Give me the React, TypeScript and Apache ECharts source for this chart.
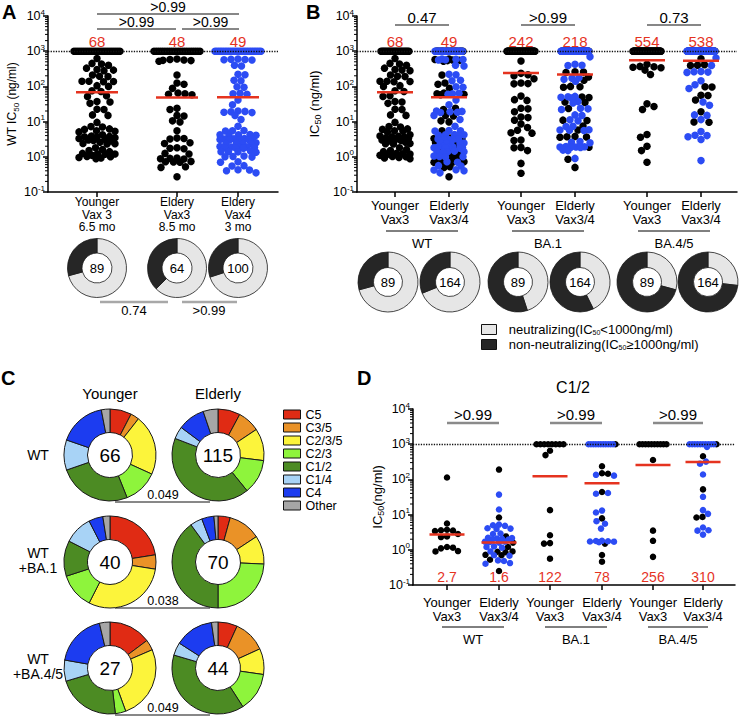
import React, { useEffect, useRef } from "react";
import * as echarts from "echarts";

const FONT = "'Liberation Sans', Arial, Helvetica, sans-serif";
const BLACK = "#000000";
const BLUE = "#2c4cf4";
const RED = "#e5331f";
const LIGHT = "#e6e6e6";
const DARK = "#262626";
const CENSOR = 1000;

// ---------------- Panel A ----------------
const aCategories = ["Younger\nVax 3\n6.5 mo", "Eldery\nVax3\n8.5 mo", "Eldery\nVax4\n3 mo"];
const aMedians = [68, 48, 49];
const aPValues = [">0.99", ">0.99", ">0.99"];
const aDonutP = ["0.74", ">0.99"];
const aDonutTotals = [89, 64, 100];
const aDonutNeutral = [63, 40, 70];
const aDonutNonNeutral = [26, 24, 30];

// WT IC50 (ng/ml) values below the 1000 ng/ml ceiling
const wtYounger = [620, 450, 400, 430, 290, 300, 280, 330, 195, 190, 210, 140, 135, 140, 138, 100, 105, 75, 72, 52, 54, 36, 37, 33, 22, 22.5, 15, 15.5, 9.5, 7.0, 7.2, 6.2, 6.0, 5.3, 5.5, 5.1, 4.2, 3.8, 3.6, 3.7, 3.5, 3.9, 3.3, 3.0, 2.9, 3.1, 2.8, 2.6, 2.4, 2.3, 2.35, 1.8, 1.6, 1.5, 1.4, 1.25, 1.2, 1.22, 1.18, 1.1, 1.0, 0.95, 0.92, 1.02, 0.88];
const wtElderlyVax3 = [560, 540, 580, 520, 600, 550, 210, 125, 115, 88, 65, 62, 60, 58, 24, 22, 15, 14.5, 10.5, 9.8, 5.5, 3.4, 3.2, 3.3, 2.5, 2.4, 1.75, 1.7, 1.8, 1.25, 1.2, 0.9, 0.88, 0.92, 0.87, 0.72, 0.7, 0.74, 0.71, 0.52, 0.5, 0.27];
const wtElderlyVax4 = [580, 560, 600, 570, 590, 400, 380, 215, 220, 150, 145, 98, 95, 62, 64, 60, 41, 30, 19, 20, 18, 19.5, 18.5, 15, 11.5, 7.4, 5.5, 5.6, 5.4, 4.2, 4.3, 4.1, 4.0, 4.2, 3.2, 3.1, 3.3, 3.2, 3.0, 3.15, 3.25, 3.1, 2.4, 2.45, 2.35, 2.4, 2.5, 1.85, 1.9, 1.8, 1.85, 1.95, 1.75, 1.9, 1.8, 1.4, 1.35, 1.45, 1.4, 1.38, 1.0, 1.02, 0.98, 1.05, 0.72, 0.7, 0.55, 0.56, 0.42, 0.4, 0.43, 0.35];
const wtCensored = [24, 22, 28]; // at >= 1000: younger, elderly vax3, elderly vax4

// ---------------- Panel B ----------------
const bCategories = ["Younger\nVax3", "Elderly\nVax3/4", "Younger\nVax3", "Elderly\nVax3/4", "Younger\nVax3", "Elderly\nVax3/4"];
const bGroups = ["WT", "BA.1", "BA.4/5"];
const bMedians = [68, 49, 242, 218, 554, 538];
const bPValues = ["0.47", ">0.99", "0.73"];
const bDonutTotals = [89, 164, 89, 164, 89, 164];
const bDonutNeutral = [63, 113, 40, 70, 26, 44];
const bDonutNonNeutral = [26, 51, 49, 94, 63, 120];

const ba1Younger = [525, 235, 200, 215, 165, 120, 125, 118, 53, 40, 42, 23, 24, 19, 13.5, 13, 11, 8.5, 6.8, 5.7, 4.8, 4.7, 2.9, 3.0, 1.8, 1.85, 1.5, 0.65, 0.34];
const ba1ElderlyVax3 = [260, 250, 255, 185, 150, 100, 95, 98, 50, 48, 36, 35, 23.5, 11, 10.8, 7.5, 5.75, 3.7, 3.6, 3.8, 3.65, 1.87, 0.85, 0.5];
const ba1ElderlyVax4 = [690, 425, 400, 390, 170, 160, 140, 175, 52, 49, 51, 47, 37, 34, 23, 22, 24, 15, 15.5, 11.2, 10.5, 7.4, 7.2, 5.8, 5.7, 5.9, 5.6, 2.6, 2.5, 2.7, 1.9, 1.95, 1.85, 1.9, 1.88, 1.92, 1.55, 1.5, 0.9];
const ba1Censored = [60, 40, 61];

const ba45Younger = [425, 360, 340, 370, 350, 290, 218, 32, 27, 22, 4.3, 3.6, 2.0, 1.5, 0.7];
const ba45ElderlyVax3 = [610, 400, 390, 410, 98, 96, 56, 55, 41, 19, 9.8, 9.6];
const ba45ElderlyVax4 = [640, 395, 260, 250, 255, 265, 145, 112, 87, 36, 29, 15, 15.5, 11.4, 5.2, 4.1, 4.0, 3.7, 3.1, 0.78];
const ba45Censored = [74, 52, 80];

// ---------------- Panel C ----------------
const cClasses = ["C5", "C3/5", "C2/3/5", "C2/3", "C1/2", "C1/4", "C4", "Other"];
const cColors = ["#e02b14", "#ea9227", "#fcf43b", "#8ef43c", "#4c8b23", "#a8d3f6", "#1c3cf0", "#a6a6a6"];
const cRows = ["WT", "WT\n+BA.1", "WT\n+BA.4/5"];
const cCols = ["Younger", "Elderly"];
const cWtYounger = [5, 2, 14, 8, 17, 7, 11, 2];
const cWtElderly = [9, 9, 13, 14, 48, 5, 11, 6];
const cBa1Younger = [9, 2, 12, 5, 5, 4, 2, 1];
const cBa1Elderly = [3, 8, 7, 17, 28, 3, 3, 1];
const cBa45Younger = [4, 1, 7, 1, 6, 2, 5, 1];
const cBa45Elderly = [3, 5, 4, 6, 17, 2, 6, 1];
const cTotals = [66, 115, 40, 70, 27, 44];
const cPValues = ["0.049", "0.038", "0.049"];

// ---------------- Panel D (C1/2) ----------------
const dMedians = [2.7, 1.6, 122, 78, 256, 310];
const dPValues = [">0.99", ">0.99", ">0.99"];
const dWtYounger = [113, 5.6, 3.6, 3.7, 3.5, 3.4, 2.8, 2.4, 2.3, 1.2, 1.1, 0.92, 0.9, 1.15];
const dWtElderlyVax3 = [190, 8.3, 2.4, 1.6, 1.2, 0.85, 0.9, 0.88, 0.72, 0.7, 0.52, 0.25];
const dWtElderlyVax4 = [37, 14, 5.2, 5.0, 4.8, 4.1, 3.9, 4.0, 2.9, 2.8, 2.1, 2.0, 2.15, 2.05, 1.95, 2.2, 1.7, 1.65, 1.6, 1.7, 1.2, 1.25, 1.15, 0.9, 0.7, 0.68, 0.5, 0.48, 0.4, 0.42];
const dBa1Younger = [650, 490, 13.4, 2.6, 1.55, 1.5, 0.56];
const dBa1ElderlyVax3 = [237, 150, 145, 44, 7.8, 1.5, 0.71, 0.46];
const dBa1ElderlyVax4 = [135, 128, 41, 39, 13, 11.5, 6.5, 5.5, 4.0, 1.8, 1.75, 1.7, 1.65, 1.72, 1.78];
const dBa45Younger = [355, 3.5, 1.8, 0.63];
const dBa45ElderlyVax3 = [455, 52, 8.3, 8.6];
const dBa45ElderlyVax4 = [840, 320, 280, 138, 32, 10.5, 13.4, 4.3, 3.6, 3.5, 2.7];
const dCensoredBlack = [0, 0, 8, 1, 10, 1];
const dCensoredBlue = [0, 0, 0, 11, 0, 10];

// ---------------- Layout (pixels) ----------------
const GA = { left: 48, top: 16, width: 230, height: 176 };
const GB = { left: 357, top: 16, width: 380, height: 176 };
const GD = { left: 413, top: 409, width: 322, height: 176 };
const posA = [49, 129, 190];
const posB = [38, 92, 164, 218, 290, 344];
const posD = [34, 86, 137, 189, 240, 290];
const PPD = 176 / 5;
const bPieX = [388, 450, 518, 580, 647, 708];
const cPieX = [110, 218];
const cPieY = [455, 562, 668];

type P = { v: number; c: string };
const pts = (vals: number[], c: string): P[] => vals.map((v) => ({ v, c }));
function censList(nBlack: number, nBlue: number): string[] {
  const t = nBlack + nBlue;
  const out: string[] = [];
  for (let j = 0; j < t; j++) {
    out.push(Math.floor(((j + 1) * nBlack) / t) > Math.floor((j * nBlack) / t) ? BLACK : BLUE);
  }
  return out;
}

function beeswarm(center: number, points: P[], cens: string[], W: number, WC: number, diam: number) {
  const out: { x: number; v: number; c: string }[] = [];
  const placed: { x: number; y: number }[] = [];
  const yPx = (v: number) => -Math.log10(v) * PPD;
  const n = cens.length;
  cens.forEach((c, i) => {
    const off = n === 1 ? 0 : -WC + (2 * WC * i) / (n - 1);
    placed.push({ x: off, y: yPx(CENSOR) });
    out.push({ x: center + off, v: CENSOR, c });
  });
  const sorted = [...points].sort((a, b) => b.v - a.v);
  let flip = 1;
  for (const p of sorted) {
    const y = yPx(p.v);
    let best = 0;
    let bestD = -1;
    let found = false;
    for (let k = 0; k <= W * 2 && !found; k++) {
      const mag = k / 2;
      const signs = mag === 0 ? [1] : [flip, -flip];
      for (const s of signs) {
        const off = s * mag;
        let md = Infinity;
        for (const q of placed) {
          const d = Math.hypot(q.x - off, q.y - y);
          if (d < md) md = d;
        }
        if (md >= diam) {
          best = off;
          found = true;
          break;
        }
        if (md > bestD) {
          bestD = md;
          best = off;
        }
      }
    }
    flip = -flip;
    placed.push({ x: best, y });
    out.push({ x: center + best, v: p.v, c: p.c });
  }
  return out;
}

function scatterPair(gi: number, all: { x: number; v: number; c: string }[], size: number) {
  const mk = (c: string, withLine: boolean) => ({
    type: "scatter",
    xAxisIndex: gi,
    yAxisIndex: gi,
    symbol: "circle",
    symbolSize: size,
    itemStyle: { color: c, opacity: 1 },
    silent: true,
    z: c === BLACK ? 2 : 3,
    data: all.filter((p) => p.c === c).map((p) => [p.x, p.v]),
    markLine: withLine
      ? {
          silent: true,
          symbol: "none",
          label: { show: false },
          lineStyle: { type: "dotted", color: "#111", width: 1.3 },
          data: [{ yAxis: CENSOR }],
        }
      : undefined,
  });
  return [mk(BLACK, true), mk(BLUE, false)];
}

function medianSeries(gi: number, pos: number[], meds: number[], half: number, top: boolean, fs: number) {
  return {
    type: "custom",
    xAxisIndex: gi,
    yAxisIndex: gi,
    clip: false,
    silent: true,
    z: 8,
    data: pos.map((p, i) => [p, meds[i]]),
    renderItem: (params: any, api: any) => {
      const x = api.value(0);
      const c = api.coord([x, api.value(1)]);
      const ref = top ? api.coord([x, CENSOR]) : api.coord([x, 0.1]);
      const ty = top ? ref[1] - 10 : ref[1] - 8;
      return {
        type: "group",
        children: [
          { type: "line", shape: { x1: c[0] - half, y1: c[1], x2: c[0] + half, y2: c[1] }, style: { stroke: RED, lineWidth: 2.5 } },
          { type: "text", x: c[0], y: ty, style: { text: String(meds[params.dataIndex]), fill: RED, fontSize: fs, fontFamily: FONT, align: "center", verticalAlign: "middle" } },
        ],
      };
    },
  };
}

function bracketSeries(gi: number, spans: number[][], texts: string[], lift: number[], color: string, width: number, fs: number, gap: number) {
  return {
    type: "custom",
    xAxisIndex: gi,
    yAxisIndex: gi,
    clip: false,
    silent: true,
    z: 8,
    encode: { x: [0, 1], y: 2 },
    data: spans.map((s) => [s[0], s[1], CENSOR]),
    renderItem: (params: any, api: any) => {
      const i = params.dataIndex;
      const a = api.coord([api.value(0), 10000]);
      const b = api.coord([api.value(1), 10000]);
      const y = a[1] + lift[i];
      return {
        type: "group",
        children: [
          { type: "line", shape: { x1: a[0], y1: y, x2: b[0], y2: y }, style: { stroke: color, lineWidth: width } },
          { type: "text", x: (a[0] + b[0]) / 2, y: y - gap, style: { text: texts[i], fill: "#000", fontSize: fs, fontFamily: FONT, align: "center", verticalAlign: "middle" } },
        ],
      };
    },
  };
}

function groupLineSeries(gi: number, spans: number[][], texts: string[], dyLine: number, dyText: number) {
  return {
    type: "custom",
    xAxisIndex: gi,
    yAxisIndex: gi,
    clip: false,
    silent: true,
    z: 8,
    encode: { x: [0, 1], y: 2 },
    data: spans.map((s) => [s[0], s[1], CENSOR]),
    renderItem: (params: any, api: any) => {
      const i = params.dataIndex;
      const a = api.coord([api.value(0), 0.1]);
      const b = api.coord([api.value(1), 0.1]);
      return {
        type: "group",
        children: [
          { type: "line", shape: { x1: a[0], y1: a[1] + dyLine, x2: b[0], y2: a[1] + dyLine }, style: { stroke: "#000", lineWidth: 1 } },
          { type: "text", x: (a[0] + b[0]) / 2, y: a[1] + dyText, style: { text: texts[i], fill: "#000", fontSize: 13, fontFamily: FONT, align: "center", verticalAlign: "middle" } },
        ],
      };
    },
  };
}

const minorTickValues: number[] = [];
for (let d = -1; d <= 3; d++) for (let k = 2; k <= 9; k++) minorTickValues.push(k * Math.pow(10, d));

function minorTickSeries(gi: number) {
  return {
    type: "custom",
    xAxisIndex: gi,
    yAxisIndex: gi,
    clip: false,
    silent: true,
    z: 8,
    data: minorTickValues.map((v) => [0, v]),
    renderItem: (_p: any, api: any) => {
      const c = api.coord([0, api.value(1)]);
      return { type: "line", shape: { x1: c[0] - 3, y1: c[1], x2: c[0], y2: c[1] }, style: { stroke: "#000", lineWidth: 1 } };
    },
  };
}

function yAxis(gi: number, nameParts: string[], nameGap: number, nameSize: number) {
  return {
    type: "log",
    gridIndex: gi,
    logBase: 10,
    min: 0.1,
    max: 10000,
    axisLine: { show: true, onZero: false, lineStyle: { color: "#000", width: 1.5 } },
    axisTick: { show: true, length: 5, lineStyle: { color: "#000", width: 1.5 } },
    splitLine: { show: false },
    axisLabel: {
      margin: 3,
      color: "#000",
      formatter: (v: number) => `{b|10}{s|${Math.round(Math.log10(v))}}`,
      rich: {
        b: { fontSize: 12.5, fontFamily: FONT, color: "#000", lineHeight: 16 },
        s: { fontSize: 8, fontFamily: FONT, color: "#000", lineHeight: 8, verticalAlign: "top" },
      },
    },
    name: `{n|${nameParts[0]}}{s|${nameParts[1]}}{n|${nameParts[2]}}`,
    nameLocation: "middle",
    nameGap,
    nameTextStyle: {
      rich: {
        n: { fontSize: nameSize, fontFamily: FONT, color: "#000", lineHeight: 16 },
        s: { fontSize: nameSize - 4, fontFamily: FONT, color: "#000", lineHeight: 9, verticalAlign: "bottom" },
      },
    },
  };
}

function xAxis(gi: number, width: number, pos: number[], labels: string[], fs: number, lh: number, margin: number) {
  return {
    type: "value",
    gridIndex: gi,
    min: 0,
    max: width,
    axisLine: { show: true, onZero: false, lineStyle: { color: "#000", width: 1.5 } },
    axisTick: { show: true, customValues: pos, length: 5, lineStyle: { color: "#000", width: 1.5 } },
    splitLine: { show: false },
    axisLabel: {
      customValues: pos,
      margin,
      color: "#000",
      fontSize: fs,
      fontFamily: FONT,
      lineHeight: lh,
      formatter: (v: number) => {
        const i = pos.indexOf(v);
        return i >= 0 ? labels[i] : "";
      },
    },
  };
}

function donut(center: number[], radius: number[], names: string[], values: number[], colors: string[], total: number, fs: number, bw: number) {
  return {
    type: "pie",
    center,
    radius,
    startAngle: 90,
    clockwise: true,
    silent: true,
    avoidLabelOverlap: false,
    emphasis: { disabled: true },
    labelLine: { show: false },
    label: { show: false },
    itemStyle: { borderColor: "#1a1a1a", borderWidth: bw },
    data: values.map((v, i) => ({
      name: names[i],
      value: v,
      itemStyle: { color: colors[i] },
      label:
        i === 0
          ? { show: true, position: "center", formatter: String(total), fontSize: fs, fontFamily: FONT, color: "#000" }
          : { show: false },
    })),
  };
}

function buildOption() {
  const D = 7;
  const aAll = [
    ...beeswarm(posA[0], pts(wtYounger, BLACK), censList(wtCensored[0], 0), 18, 23, D),
    ...beeswarm(posA[1], pts(wtElderlyVax3, BLACK), censList(wtCensored[1], 0), 18, 23, D),
    ...beeswarm(posA[2], pts(wtElderlyVax4, BLUE), censList(0, wtCensored[2]), 18, 23, D),
  ];
  const bSets = [
    [wtYounger, [], wtCensored[0], 0],
    [wtElderlyVax3, wtElderlyVax4, wtCensored[1], wtCensored[2]],
    [ba1Younger, [], ba1Censored[0], 0],
    [ba1ElderlyVax3, ba1ElderlyVax4, ba1Censored[1], ba1Censored[2]],
    [ba45Younger, [], ba45Censored[0], 0],
    [ba45ElderlyVax3, ba45ElderlyVax4, ba45Censored[1], ba45Censored[2]],
  ] as [number[], number[], number, number][];
  const bAll = bSets.flatMap((s, i) =>
    beeswarm(posB[i], [...pts(s[0], BLACK), ...pts(s[1], BLUE)], censList(s[2], s[3]), 15, 14, D)
  );
  const dSets = [
    [dWtYounger, []],
    [dWtElderlyVax3, dWtElderlyVax4],
    [dBa1Younger, []],
    [dBa1ElderlyVax3, dBa1ElderlyVax4],
    [dBa45Younger, []],
    [dBa45ElderlyVax3, dBa45ElderlyVax4],
  ] as [number[], number[]][];
  const dAll = dSets.flatMap((s, i) =>
    beeswarm(posD[i], [...pts(s[0], BLACK), ...pts(s[1], BLUE)], censList(dCensoredBlack[i], dCensoredBlue[i]), 14, 13.5, 6)
  );

  const series: any[] = [
    ...scatterPair(0, aAll, 7.5),
    ...scatterPair(1, bAll, 7.5),
    ...scatterPair(2, dAll, 6.5),
    medianSeries(0, posA, aMedians, 21, true, 15),
    medianSeries(1, posB, bMedians, 18, true, 15),
    medianSeries(2, posD, dMedians, 17.5, false, 14),
    bracketSeries(0, [[posA[0], posA[2] + 1], [posA[0], posA[1] - 1], [posA[1] + 5, posA[2] + 1]], aPValues, [-2, 13, 13], "#111", 1.2, 14, 7.5),
    bracketSeries(1, [[posB[0], posB[1]], [posB[2], posB[3]], [posB[4], posB[5]]], bPValues, [9, 9, 9], "#111", 1.2, 15, 7.5),
    bracketSeries(2, [[posD[0], posD[1]], [posD[2], posD[3]], [posD[4], posD[5]]], dPValues, [14, 14, 14], "#8a8a8a", 2.5, 15, 8.5),
    groupLineSeries(1, [[posB[0] - 9, posB[1] + 9], [posB[2] - 9, posB[3] + 9], [posB[4] - 9, posB[5] + 9]], bGroups, 39, 51),
    groupLineSeries(2, [[posD[0] - 5, posD[1] + 5], [posD[2] - 5, posD[3] + 5], [posD[4] - 5, posD[5] + 5]], bGroups, 42, 54),
    minorTickSeries(0),
    minorTickSeries(1),
    minorTickSeries(2),
  ];

  const nn = ["neutralizing", "non-neutralizing"];
  const nnColors = [LIGHT, DARK];
  posA.forEach((p, i) => {
    series.push(donut([GA.left + p, 268], [15, 29.5], nn, [aDonutNeutral[i], aDonutNonNeutral[i]], nnColors, aDonutTotals[i], 13, 0.8));
  });
  bPieX.forEach((x, i) => {
    series.push(donut([x, 282], [14.5, 30], nn, [bDonutNeutral[i], bDonutNonNeutral[i]], nnColors, bDonutTotals[i], 13, 0.8));
  });
  const cData = [cWtYounger, cWtElderly, cBa1Younger, cBa1Elderly, cBa45Younger, cBa45Elderly];
  cData.forEach((vals, i) => {
    const r = Math.floor(i / 2);
    const c = i % 2;
    series.push(donut([cPieX[c], cPieY[r]], [22.5, 46], cClasses, vals, cColors, cTotals[i], 19, 1));
  });

  const txt = (text: string, x: number, y: number, fs: number, extra: any = {}) => ({
    type: "text",
    x,
    y,
    silent: true,
    style: { text, fill: "#000", fontSize: fs, fontFamily: FONT, align: "center", verticalAlign: "middle", ...extra },
  });
  const ln = (x1: number, y1: number, x2: number, y2: number, stroke: string, w: number) => ({
    type: "line",
    silent: true,
    shape: { x1, y1, x2, y2 },
    style: { stroke, lineWidth: w },
  });

  const elements: any[] = [
    txt("A", 2, 2, 20, { fontWeight: "bold", align: "left", verticalAlign: "top" }),
    txt("B", 306, 2, 20, { fontWeight: "bold", align: "left", verticalAlign: "top" }),
    txt("C", 1, 368, 20, { fontWeight: "bold", align: "left", verticalAlign: "top" }),
    txt("D", 357, 368, 20, { fontWeight: "bold", align: "left", verticalAlign: "top" }),
    ln(100, 302, 168, 302, "#a8a8a8", 2.5),
    ln(182, 302, 237, 302, "#a8a8a8", 2.5),
    txt(aDonutP[0], 134, 310, 13),
    txt(aDonutP[1], 209, 310, 13),
    txt(cCols[0], cPieX[0], 393, 15),
    txt(cCols[1], cPieX[1], 393, 15),
    txt("C1/2", 573, 387, 16),
  ];
  cRows.forEach((r, i) => elements.push(txt(r, 38, cPieY[i] - (i === 0 ? 0 : 2), 14, { lineHeight: 15 })));
  const cLineY = [502, 608, 715];
  cPValues.forEach((p, i) => {
    elements.push(ln(115, cLineY[i], 210, cLineY[i], "#111", 1));
    elements.push(txt(p, 163, cLineY[i] - 7, 12.5));
  });

  return {
    animation: false,
    backgroundColor: "#ffffff",
    textStyle: { fontFamily: FONT },
    grid: [
      { ...GA, outerBoundsMode: "none", containLabel: false },
      { ...GB, outerBoundsMode: "none", containLabel: false },
      { ...GD, outerBoundsMode: "none", containLabel: false },
    ],
    xAxis: [
      xAxis(0, GA.width, posA, aCategories, 12, 12.5, 4),
      xAxis(1, GB.width, posB, bCategories, 13, 14, 6),
      xAxis(2, GD.width, posD, bCategories, 13, 14, 10),
    ],
    yAxis: [
      yAxis(0, ["WT IC", "50", " (ng/ml)"], 27, 12),
      yAxis(1, ["IC", "50", " (ng/ml)"], 32, 13),
      yAxis(2, ["IC", "50", "(ng/ml)"], 22, 13),
    ],
    legend: [
      {
        data: nn,
        orient: "vertical",
        left: 476,
        top: 318,
        itemWidth: 15,
        itemHeight: 10,
        itemGap: 2,
        icon: "rect",
        selectedMode: false,
        itemStyle: { borderColor: "#111", borderWidth: 1 },
        formatter: (name: string) =>
          name === "neutralizing" ? "{t|  neutralizing(IC}{s|50}{t|<1000ng/ml)}" : "{t|  non-neutralizing(IC}{s|50}{t|≥1000ng/ml)}",
        textStyle: {
          color: "#000",
          fontFamily: FONT,
          fontSize: 13,
          lineHeight: 13,
          rich: {
            t: { fontSize: 13, fontFamily: FONT, color: "#000", lineHeight: 13 },
            s: { fontSize: 7, fontFamily: FONT, color: "#000", lineHeight: 7, verticalAlign: "bottom" },
          },
        },
      },
      {
        data: cClasses,
        orient: "vertical",
        left: 278,
        top: 403,
        itemWidth: 17,
        itemHeight: 9,
        itemGap: 0,
        icon: "rect",
        selectedMode: false,
        itemStyle: { borderColor: "#111", borderWidth: 1 },
        textStyle: { color: "#000", fontFamily: FONT, fontSize: 12.5, lineHeight: 12.5 },
      },
    ],
    graphic: { elements },
    series,
  };
}

export default function App() {
  const ref = useRef<HTMLDivElement>(null);
  useEffect(() => {
    document.body.style.margin = "0";
    const chart = echarts.init(ref.current as HTMLDivElement, null, { renderer: "svg" });
    chart.setOption(buildOption() as any);
    return () => chart.dispose();
  }, []);
  return <div ref={ref} style={{ width: 740, height: 717 }} />;
}
